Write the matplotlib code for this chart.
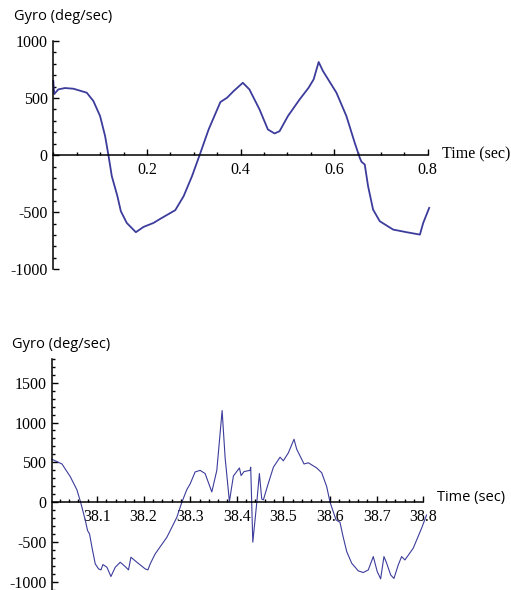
import numpy as np
import matplotlib.pyplot as plt
from matplotlib.ticker import MultipleLocator, FixedLocator

plt.rcParams['axes.unicode_minus'] = False

# gyro trace, first window (time from 0)
t1 = [0.0, 0.002, 0.0107, 0.025, 0.043, 0.0715, 0.0857, 0.100, 0.1107, 0.1178,
      0.125, 0.137, 0.1443, 0.157, 0.1764, 0.1927, 0.214, 0.2285, 0.2606, 0.2784,
      0.2964, 0.3126, 0.3319, 0.357, 0.3713, 0.3850, 0.405, 0.419, 0.4407, 0.4585,
      0.4728, 0.4835, 0.5013, 0.5263, 0.5456, 0.5563, 0.567, 0.5762, 0.605, 0.6263,
      0.6441, 0.6548, 0.6585, 0.6655, 0.6726, 0.6833, 0.6976, 0.7261, 0.7548, 0.7833,
      0.7904, 0.8032]
g1 = [650, 535, 576, 588, 582, 547, 474, 342, 167, 0,
      -184, -360, -491, -594, -675, -629, -594, -558, -482, -360,
      -184, 0, 225, 465, 503, 560, 634, 576, 400, 225,
      190, 210, 342, 488, 591, 664, 816, 737, 547, 342,
      108, -23, -58, -82, -272, -477, -579, -652, -675, -696,
      -594, -462]

# gyro trace, second window
t2 = [38.0035, 38.0250, 38.0427, 38.0571, 38.0650, 38.0748, 38.0799, 38.0841, 38.0893, 38.0964,
      38.1034, 38.1086, 38.1128, 38.1214, 38.1300, 38.1392, 38.1499, 38.1606, 38.1677, 38.1729,
      38.1857, 38.2035, 38.2093, 38.2142, 38.2249, 38.2500, 38.2714, 38.2821, 38.2928, 38.2999,
      38.3106, 38.3213, 38.3320, 38.3464, 38.3571, 38.3685, 38.3749, 38.3841, 38.3927, 38.4056,
      38.4092, 38.4156, 38.4285, 38.4298, 38.4343, 38.4428, 38.4484, 38.4535, 38.4570, 38.4656,
      38.4785, 38.4928, 38.4998, 38.5106, 38.5227, 38.5285, 38.5442, 38.5534, 38.5714, 38.5821,
      38.5928, 38.6000, 38.6128, 38.6213, 38.6271, 38.6357, 38.6464, 38.6605, 38.6713, 38.6820,
      38.6927, 38.7012, 38.7085, 38.7156, 38.7214, 38.7300, 38.7370, 38.7463, 38.7535, 38.7606,
      38.7784, 38.7963, 38.8070]
g2 = [539, 480, 322, 155, 0, -221, -355, -397, -564, -773,
      -835, -848, -781, -815, -931, -815, -752, -806, -848, -689,
      -752, -835, -848, -773, -647, -439, -188, 0, 159, 230,
      380, 400, 360, 130, 400, 1150, 560, 10, 330, 430,
      335, 385, 400, 440, -500, -5, 360, 40, 30, 200,
      440, 565, 520, 620, 790, 665, 480, 495, 430, 370,
      196, 0, -221, -251, -409, -618, -764, -860, -881, -848,
      -681, -869, -960, -681, -764, -911, -955, -785, -681, -723,
      -576, -326, -160]

W, H = 511, 590
line_color = '#3c3c9c'
serif = 'Liberation Serif'
sans = 'Open Sans'

fig = plt.figure(figsize=(W / 100, H / 100), dpi=100)


def setup(ax):
    for s in ['top', 'right']:
        ax.spines[s].set_visible(False)
    ax.spines['bottom'].set_position(('data', 0))
    for s in ['left', 'bottom']:
        ax.spines[s].set_linewidth(1.1)
    ax.tick_params(which='both', direction='in', width=1.0, labelsize=11.5)
    ax.tick_params(which='major', length=4)
    ax.tick_params(which='minor', length=2.3)
    ax.tick_params(axis='x', pad=5)
    ax.tick_params(axis='y', pad=4)
    for lab in ax.get_xticklabels() + ax.get_yticklabels():
        lab.set_family(serif)


# top chart
ax1 = fig.add_axes([53.3 / W, 1 - 269.3 / H, 374.4 / W, 228.3 / H])
ax1.plot(t1, g1, color=line_color, linewidth=1.3, clip_on=False)
ax1.set_xlim(0, 0.8)
ax1.set_ylim(-1000, 1000)
ax1.xaxis.set_major_locator(FixedLocator([0.2, 0.4, 0.6, 0.8]))
ax1.xaxis.set_minor_locator(MultipleLocator(0.05))
ax1.yaxis.set_major_locator(MultipleLocator(500))
ax1.yaxis.set_minor_locator(MultipleLocator(100))
ax1.set_xticklabels(['0.2', '0.4', '0.6', '0.8'])
setup(ax1)

# bottom chart
ax2 = fig.add_axes([52 / W, 0, 371.3 / W, (H - 358.7) / H])
ax2.plot(t2, g2, color=line_color, linewidth=0.8, clip_on=False)
ax2.set_xlim(38.0036, 38.8)
ax2.set_ylim(-1100, 1800)
ax2.xaxis.set_major_locator(FixedLocator([38.1, 38.2, 38.3, 38.4, 38.5, 38.6, 38.7, 38.8]))
ax2.xaxis.set_minor_locator(FixedLocator(np.arange(38.02, 38.801, 0.02)))
ax2.yaxis.set_major_locator(FixedLocator([-1000, -500, 0, 500, 1000, 1500]))
ax2.yaxis.set_minor_locator(MultipleLocator(100))
ax2.set_xticklabels(['38.1', '38.2', '38.3', '38.4', '38.5', '38.6', '38.7', '38.8'])
setup(ax2)

fig.text(14 / W, 1 - 17 / H, 'Gyro (deg/sec)', family=sans, fontsize=10.5, va='center', ha='left')
fig.text(442 / W, 1 - 154 / H, 'Time (sec)', family=serif, fontsize=11.5, va='center', ha='left')
fig.text(12 / W, 1 - 345 / H, 'Gyro (deg/sec)', family=sans, fontsize=10.5, va='center', ha='left')
fig.text(437 / W, 1 - 497 / H, 'Time (sec)', family=sans, fontsize=10.5, va='center', ha='left')

fig.savefig('out.png', dpi=100)
